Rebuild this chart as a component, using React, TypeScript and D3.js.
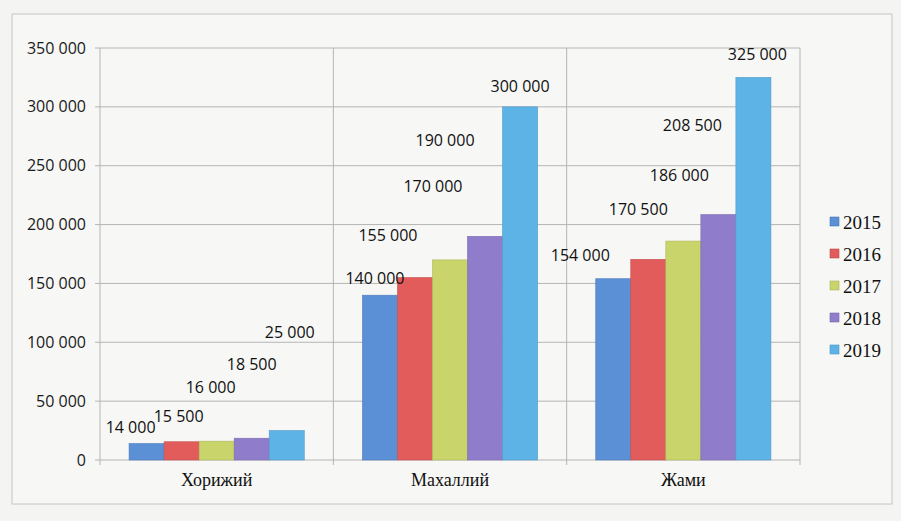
import React from "react";
import * as d3 from "d3";

const categories = ["Хорижий", "Махаллий", "Жами"];
const seriesNames = ["2015", "2016", "2017", "2018", "2019"];
const values2015 = [14000, 140000, 154000];
const values2016 = [15500, 155000, 170500];
const values2017 = [16000, 170000, 186000];
const values2018 = [18500, 190000, 208500];
const values2019 = [25000, 300000, 325000];
const yTicks = [0, 50000, 100000, 150000, 200000, 250000, 300000, 350000];

const seriesValues = [values2015, values2016, values2017, values2018, values2019];
const colors = ["#5B8FD6", "#E25C5C", "#C9D46B", "#8F7DCB", "#5DB3E6"];

// manual data-label placement (dx, lift above bar top) per category / series, in px
const labelPlacement = [
  [[-16, 16], [-3, 25], [-6, 54], [0, 74], [3, 98]],
  [[-5, 17], [-27, 42], [-17, 73], [-40, 96], [0, 20]],
  [[-33, 23], [-10, 50], [-4, 66], [-26, 89], [4, 23]],
];

const W = 901;
const H = 521;
const plot = { left: 100, right: 800, top: 48, bottom: 460 };
const SANS = "'Open Sans', 'Liberation Sans', sans-serif";
const SERIF = "'Liberation Serif', 'DejaVu Serif', serif";

const fmt = (v: number) => d3.format(",")(v).replace(/,/g, " ");

export default function App() {
  const y = d3.scaleLinear().domain([0, 350000]).range([plot.bottom, plot.top]);
  const x0 = d3.scaleBand<string>().domain(categories).range([plot.left, plot.right]).paddingInner(0).paddingOuter(0);
  const x1 = d3
    .scaleBand<string>()
    .domain(seriesNames)
    .range([0, x0.bandwidth()])
    .paddingInner(0)
    .paddingOuter(0.83);

  const boundaries = categories.map((c) => x0(c) as number).concat([plot.right]);

  return (
    <svg width={W} height={H} style={{ position: "absolute", left: 0, top: 0, background: "#f4f4f3" }}>
      <rect x={12} y={14} width={880} height={490} fill="#f7f7f6" stroke="#c4c4c4" strokeWidth={1} />
      {yTicks.map((t) => (
        <g key={t}>
          <line x1={plot.left - 5} x2={plot.right} y1={y(t)} y2={y(t)} stroke="#b5b5b5" strokeWidth={1} />
          <text x={86} y={y(t)} dy="0.35em" textAnchor="end" fontFamily={SANS} fontSize={16} fill="#1a1a1a">
            {fmt(t)}
          </text>
        </g>
      ))}
      {boundaries.map((bx, i) => (
        <line key={i} x1={bx} x2={bx} y1={plot.top} y2={plot.bottom + 5} stroke="#b5b5b5" strokeWidth={1} />
      ))}
      {categories.map((c, ci) => (
        <g key={c} transform={`translate(${x0(c)},0)`}>
          {seriesNames.map((s, si) => {
            const v = seriesValues[si][ci];
            return (
              <rect
                key={s}
                x={x1(s)}
                y={y(v)}
                width={x1.bandwidth()}
                height={y(0) - y(v)}
                fill={colors[si]}
                stroke={d3.color(colors[si])!.darker(0.4).toString()}
                strokeWidth={0.6}
              />
            );
          })}
          {seriesNames.map((s, si) => {
            const v = seriesValues[si][ci];
            const [dx, lift] = labelPlacement[ci][si];
            return (
              <text
                key={"l" + s}
                x={(x1(s) as number) + x1.bandwidth() / 2 + dx}
                y={y(v) - lift}
                dy="0.35em"
                textAnchor="middle"
                fontFamily={SANS}
                fontSize={16}
                fill="#111"
              >
                {fmt(v)}
              </text>
            );
          })}
          <text x={x0.bandwidth() / 2} y={486} textAnchor="middle" fontFamily={SERIF} fontSize={18} fill="#111">
            {c}
          </text>
        </g>
      ))}
      {seriesNames.map((s, i) => (
        <g key={s} transform={`translate(830, ${222 + i * 32})`}>
          <rect
            x={0}
            y={-5}
            width={9}
            height={9}
            fill={colors[i]}
            stroke={d3.color(colors[i])!.darker(0.5).toString()}
            strokeWidth={0.6}
          />
          <text x={13} y={0} dy="0.35em" fontFamily={SERIF} fontSize={19} fill="#111">
            {s}
          </text>
        </g>
      ))}
    </svg>
  );
}
